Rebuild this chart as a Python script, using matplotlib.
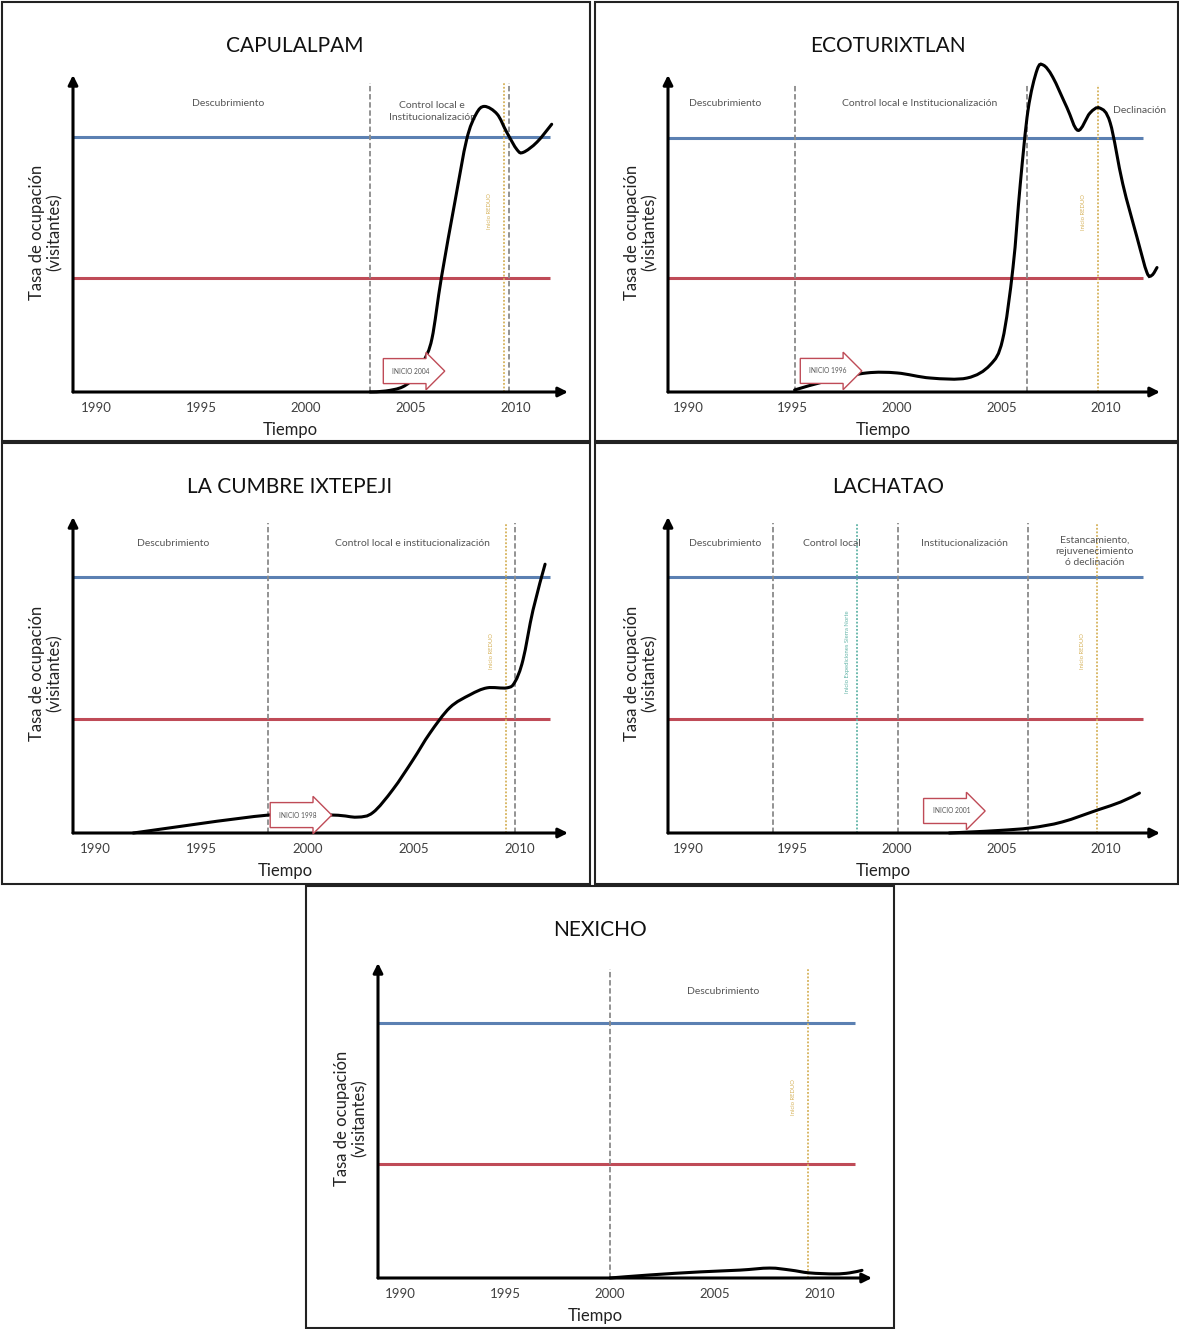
"""Ciclo de vida de destinos ecoturisticos: cinco paneles de tasa de ocupacion."""

import matplotlib

matplotlib.use("Agg")
import matplotlib.pyplot as plt
import numpy as np
from matplotlib.patches import PathPatch, Rectangle
from matplotlib.path import Path

plt.rcParams["font.family"] = ["Lato", "DejaVu Sans"]

W, H = 1179, 1329

YEAR_TICKS = [1990, 1995, 2000, 2005, 2010]
BLUE_LEVEL = 1.0
RED_LEVEL = 0.447

# --- curves (year, occupation relative to blue line) ---
CAPULALPAM_YEARS = [2003.05, 2003.8, 2004.6, 2005.2, 2005.6, 2006.0, 2006.45, 2007.1,
                    2007.65, 2008.1, 2008.5, 2009.1, 2009.55, 2010.05, 2010.35, 2011.0, 2011.7]
CAPULALPAM_VALUES = [0.0, 0.004, 0.02, 0.06, 0.12, 0.21, 0.45, 0.75,
                     0.99, 1.09, 1.12, 1.09, 1.02, 0.95, 0.94, 0.98, 1.05]

ECOTURIXTLAN_YEARS = [1995.1, 1996.8, 1998.55, 2000.0, 2001.6, 2003.35, 2004.45, 2005.05,
                      2005.55, 2005.9, 2006.27, 2006.7, 2007.0, 2007.45, 2008.13, 2008.66,
                      2009.23, 2009.7, 2010.2, 2010.8, 2011.48, 2011.96, 2012.2, 2012.44]
ECOTURIXTLAN_VALUES = [0.008, 0.047, 0.075, 0.075, 0.055, 0.055, 0.106, 0.205,
                       0.49, 0.82, 1.11, 1.268, 1.287, 1.24, 1.12, 1.03,
                       1.098, 1.118, 1.06, 0.82, 0.61, 0.47, 0.46, 0.49]

CUMBRE_YEARS = [1991.8, 1998.15, 2001.2, 2002.33, 2003.08, 2004.02, 2004.96, 2005.76,
                2006.7, 2007.65, 2008.45, 2009.39, 2009.76, 2010.14, 2010.61, 2011.18]
CUMBRE_VALUES = [0.0, 0.07, 0.07, 0.062, 0.08, 0.17, 0.285, 0.39,
                 0.49, 0.54, 0.567, 0.567, 0.59, 0.676, 0.87, 1.05]

LACHATAO_YEARS = [2002.5, 2003.5, 2004.9, 2006.4, 2007.9, 2009.6, 2010.7, 2011.6]
LACHATAO_VALUES = [0.0, 0.004, 0.01, 0.02, 0.043, 0.09, 0.121, 0.156]

NEXICHO_YEARS = [2000.0, 2001.9, 2004.3, 2006.2, 2007.6, 2008.6, 2009.5, 2010.7, 2011.4, 2012.0]
NEXICHO_VALUES = [0.0, 0.012, 0.024, 0.031, 0.039, 0.031, 0.02, 0.016, 0.02, 0.03]

# --- annotations ---
CAPULALPAM_PHASES = [("Descubrimiento", 1996.3, 1.13), ("Control local e\nInstitucionalización", 2006.0, 1.10)]
ECOTURIXTLAN_PHASES = [("Descubrimiento", 1991.8, 1.134), ("Control local e Institucionalización", 2001.1, 1.134),
                       ("Declinación", 2011.6, 1.11)]
CUMBRE_PHASES = [("Descubrimiento", 1993.7, 1.13), ("Control local e institucionalización", 2004.96, 1.13)]
LACHATAO_PHASES = [("Descubrimiento", 1991.8, 1.13), ("Control local", 1996.9, 1.13),
                   ("Institucionalización", 2003.25, 1.13),
                   ("Estancamiento,\nrejuvenecimiento\nó declinación", 2009.47, 1.10)]
NEXICHO_PHASES = [("Descubrimiento", 2005.4, 1.125)]

CAPULALPAM_GRAY = [2003.05, 2009.65]
ECOTURIXTLAN_GRAY = [1995.1, 2006.2]
CUMBRE_GRAY = [1998.15, 2009.75]
LACHATAO_GRAY = [1994.07, 2000.05, 2006.27]
NEXICHO_GRAY = [2000.0]

CAPULALPAM_ORANGE = 2009.45
ECOTURIXTLAN_ORANGE = 2009.6
CUMBRE_ORANGE = 2009.35
LACHATAO_ORANGE = 2009.57
NEXICHO_ORANGE = 2009.43
LACHATAO_GREEN = 1998.1

CAPULALPAM_START = ("INICIO 2004", 2005.0, 0.082)
ECOTURIXTLAN_START = ("INICIO 1996", 1996.7, 0.083)
CUMBRE_START = ("INICIO 1998", 1999.55, 0.07)
LACHATAO_START = ("INICIO 2001", 2002.6, 0.086)

ORANGE_LABEL = "Inicio REDUO"
GREEN_LABEL = "Inicio Expediciones Sierra Norte"

BLUE = "#5b80b2"
RED = "#bf4b57"
GRAY = "#8a8a8a"
ORANGE = "#d6b25a"
GREEN = "#5fb3a6"


def fx(x):
    return x / W


def fy(y):
    return 1 - y / H


def smooth_path(xs, ys):
    """Catmull-Rom through the read points, as cubic Bezier segments."""
    p = np.column_stack([xs, ys]).astype(float)
    ext = np.vstack([p[0], p, p[-1]])
    verts = [p[0]]
    codes = [Path.MOVETO]
    for i in range(len(p) - 1):
        p0, p1, p2, p3 = ext[i], ext[i + 1], ext[i + 2], ext[i + 3]
        verts += [p1 + (p2 - p0) / 6, p2 - (p3 - p1) / 6, p2]
        codes += [Path.CURVE4] * 3
    return Path(verts, codes)


def panel(fig, box, origin, x1990, k, h, xtip, ytop, title, years, values, phases,
          grays, orange, start=None, green=None, line_end=2011.7):
    ox, oy = origin
    left, right = ox, xtip + 6
    top = min(ytop, 50 + box[1]) - 5
    ax = fig.add_axes([fx(left), fy(oy), fx(right - left), (oy - top) / H])
    x0 = 1990 + (left - x1990) / k
    x1 = 1990 + (right - x1990) / k
    ax.set_xlim(x0, x1)
    ax.set_ylim(0, (oy - top) / h)
    ax.patch.set_alpha(0)
    for s in ax.spines.values():
        s.set_visible(False)
    ax.set_yticks([])
    ax.set_xticks(YEAR_TICKS)
    ax.set_xticklabels([str(y) for y in YEAR_TICKS], fontsize=9.5, color="#404040")
    ax.tick_params(axis="x", length=0, pad=7)

    xt = 1990 + (xtip - x1990) / k
    yt = (oy - ytop) / h
    arrow = dict(arrowstyle="-|>", lw=2.2, color="black", mutation_scale=14, shrinkA=0, shrinkB=0)
    ax.annotate("", xy=(xt, 0), xytext=(x0, 0), arrowprops=arrow, annotation_clip=False, zorder=6)
    ax.annotate("", xy=(x0, yt), xytext=(x0, 0), arrowprops=arrow, annotation_clip=False, zorder=6)

    ax.hlines([BLUE_LEVEL], x0, line_end, color=BLUE, lw=2.2, zorder=2)
    ax.hlines([RED_LEVEL], x0, line_end, color=RED, lw=2.2, zorder=2)

    for g in grays:
        ax.vlines(g, 0, 1.21, color=GRAY, lw=1.3, linestyles=(0, (3, 1.5)), zorder=3)
    ax.vlines(orange, 0, 1.21, color=ORANGE, lw=1.3, linestyles=(0, (1, 1)), zorder=3)
    ax.text(orange - 0.7, 0.71, ORANGE_LABEL, rotation=90, fontsize=4.2, color=ORANGE,
            ha="center", va="center")
    if green is not None:
        ax.vlines(green, 0, 1.21, color=GREEN, lw=1.3, linestyles=(0, (1, 1)), zorder=3)
        ax.text(green - 0.45, 0.71, GREEN_LABEL, rotation=90, fontsize=4.2, color=GREEN,
                ha="center", va="center")

    for label, x, y in phases:
        ax.text(x, y, label, fontsize=7.5, color="#555555", ha="center", va="center",
                linespacing=1.3)

    curve = PathPatch(smooth_path(years, values), fill=False, ec="black", lw=2.2,
                      capstyle="round", zorder=4, clip_on=False)
    ax.add_patch(curve)

    if start is not None:
        label, x, y = start
        ax.text(x, y, label, fontsize=4.8, color="#555555", ha="center", va="center", zorder=7,
                bbox=dict(boxstyle="rarrow,pad=1.35", fc="white", ec=RED, lw=1.0))

    bx0, by0, bx1, by1 = box
    fig.text(fx(title[1]), fy(by0 + 44), title[0], fontsize=15, ha="center", va="center", color="#111111")
    fig.text(fx(ox - 27), fy(oy - 160), "Tasa de ocupación\n(visitantes)", rotation=90,
             fontsize=12, ha="center", va="center", color="#222222", linespacing=1.15)
    fig.text(fx(title[1] - 5), fy(oy + 38), "Tiempo", fontsize=12, ha="center", va="center", color="#222222")
    fig.add_artist(Rectangle((fx(bx0), fy(by1)), fx(bx1 - bx0), (by1 - by0) / H,
                             transform=fig.transFigure, fill=False, ec="#222222", lw=1.5))
    return ax


def main():
    fig = plt.figure(figsize=(W / 100, H / 100), dpi=100)

    panel(fig, (2, 2, 590, 441), (73, 392), 96, 21.0, 255, 568, 75, ("CAPULALPAM", 295),
          CAPULALPAM_YEARS, CAPULALPAM_VALUES, CAPULALPAM_PHASES, CAPULALPAM_GRAY,
          CAPULALPAM_ORANGE, start=CAPULALPAM_START, line_end=2011.6)
    panel(fig, (595, 2, 1178, 441), (668, 392), 688, 20.9, 254, 1160, 75, ("ECOTURIXTLAN", 888),
          ECOTURIXTLAN_YEARS, ECOTURIXTLAN_VALUES, ECOTURIXTLAN_PHASES, ECOTURIXTLAN_GRAY,
          ECOTURIXTLAN_ORANGE, start=ECOTURIXTLAN_START, line_end=2011.77)
    panel(fig, (2, 443, 590, 884), (73, 833), 95, 21.25, 256, 568, 517, ("LA CUMBRE IXTEPEJI", 290),
          CUMBRE_YEARS, CUMBRE_VALUES, CUMBRE_PHASES, CUMBRE_GRAY,
          CUMBRE_ORANGE, start=CUMBRE_START, line_end=2011.4)
    panel(fig, (595, 443, 1178, 884), (668, 833), 688, 20.9, 256, 1160, 517, ("LACHATAO", 888),
          LACHATAO_YEARS, LACHATAO_VALUES, LACHATAO_PHASES, LACHATAO_GRAY,
          LACHATAO_ORANGE, start=LACHATAO_START, green=LACHATAO_GREEN, line_end=2011.77)
    panel(fig, (306, 886, 894, 1328), (378, 1278), 400, 21.0, 255, 872, 963, ("NEXICHO", 600),
          NEXICHO_YEARS, NEXICHO_VALUES, NEXICHO_PHASES, NEXICHO_GRAY,
          NEXICHO_ORANGE, line_end=2011.67)

    fig.savefig("out.png", dpi=100)
    plt.close(fig)


if __name__ == "__main__":
    main()
